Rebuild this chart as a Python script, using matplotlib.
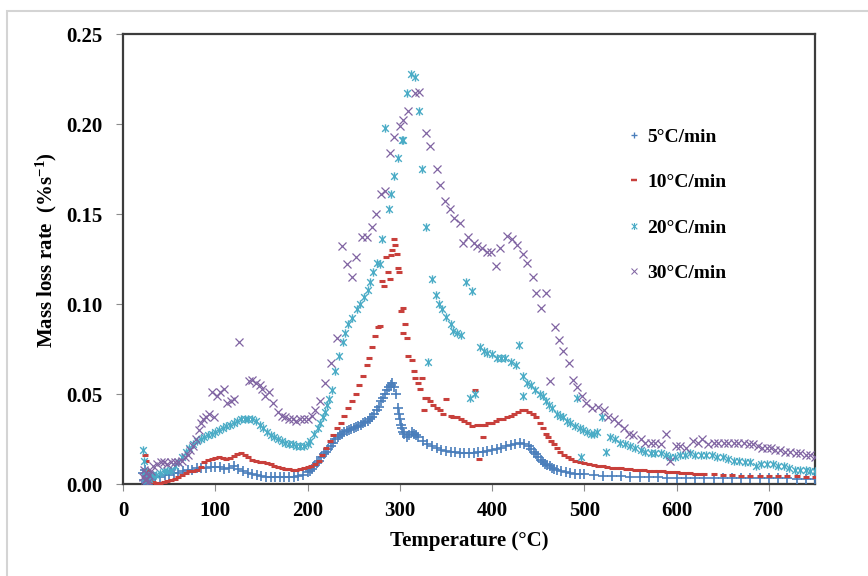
import matplotlib
matplotlib.use("Agg")
import matplotlib.pyplot as plt
from matplotlib.path import Path
from matplotlib.lines import Line2D
from matplotlib.patches import Rectangle

# ---- data: mass loss rate (%/s) vs temperature (°C) ----
t_5 = [22, 23, 24, 25, 26, 27, 28, 29, 30, 35, 40, 45, 50, 55, 60, 65, 70, 75, 80, 85,
       90, 95, 100, 105, 110, 115, 120, 125, 130, 135, 140, 145, 150, 155, 160, 165, 170,
       175, 180, 185, 190, 195, 200, 205, 210, 215, 220, 225, 230, 235, 240, 245, 250,
       255, 260, 265, 270, 275, 280, 284, 288, 290, 292, 294, 296, 298, 300, 302, 305,
       308, 310, 313, 315, 318, 320, 325, 330, 335, 340, 345, 350, 355, 360, 365, 370,
       375, 380, 385, 390, 395, 400, 405, 410, 415, 420, 425, 430, 435, 440, 445, 450,
       455, 460, 465, 470, 475, 480, 485, 490, 495, 500, 510, 520, 530, 540, 550, 560,
       570, 580, 590, 600, 610, 620, 630, 640, 650, 660, 670, 680, 690, 700, 710, 720,
       730, 740, 750]
v_5 = [0.006, 0.002, 0.008, 0.001, 0.004, 0.000, 0.003, 0.005, 0.002, 0.004, 0.004,
       0.005, 0.005, 0.006, 0.006, 0.007, 0.008, 0.008, 0.009, 0.009, 0.009, 0.0095,
       0.0095, 0.0093, 0.0085, 0.009, 0.0098, 0.0085, 0.007, 0.006, 0.0055, 0.005, 0.0045,
       0.004, 0.004, 0.0038, 0.0038, 0.004, 0.004, 0.004, 0.0045, 0.0052, 0.0065, 0.0085,
       0.0115, 0.015, 0.018, 0.021, 0.025, 0.027, 0.029, 0.030, 0.031, 0.032, 0.034,
       0.035, 0.037, 0.041, 0.046, 0.050, 0.054, 0.055, 0.056, 0.054, 0.050, 0.042,
       0.036, 0.031, 0.028, 0.026, 0.027, 0.029, 0.028, 0.027, 0.026, 0.024, 0.022,
       0.021, 0.020, 0.019, 0.0185, 0.018, 0.018, 0.0175, 0.0175, 0.0175, 0.0175, 0.018,
       0.018, 0.0185, 0.019, 0.0195, 0.020, 0.021, 0.0215, 0.022, 0.023, 0.0225, 0.021,
       0.018, 0.015, 0.012, 0.0105, 0.009, 0.0078, 0.007, 0.0065, 0.006, 0.0057, 0.0055,
       0.0053, 0.005, 0.0047, 0.0044, 0.0042, 0.004, 0.0039, 0.0038, 0.0037, 0.0036,
       0.0035, 0.0035, 0.0034, 0.0034, 0.0033, 0.0033, 0.0033, 0.0032, 0.0032, 0.0032,
       0.0031, 0.0031, 0.0031, 0.003, 0.003, 0.003]
# extra 5°C/min readings on the steep parts of the curve
t_5_extra = [202.5, 207.5, 212.5, 217.5, 222.5, 227.5, 232.5, 237.5, 242.5, 247.5,
             252.5, 257.5, 262.5, 267.5, 272.5, 277.5, 282, 286, 299, 301, 303.5,
             442.5, 447.5, 452.5, 457.5, 462.5, 467.5]
v_5_extra = [0.0075, 0.0098, 0.013, 0.0165, 0.0195, 0.023, 0.026, 0.028, 0.0295,
             0.0305, 0.0315, 0.033, 0.0345, 0.036, 0.039, 0.043, 0.048, 0.052, 0.039,
             0.033, 0.029, 0.0195, 0.0165, 0.0135, 0.011, 0.0098, 0.0085]

t_10 = [24, 25, 26, 27, 28, 30, 33, 36, 40, 44, 48, 52, 56, 60, 64, 68, 72, 76, 80, 84,
        88, 92, 96, 100, 104, 108, 112, 116, 120, 124, 128, 132, 136, 140, 144, 148, 152,
        156, 160, 164, 168, 172, 176, 180, 184, 188, 192, 196, 200, 204, 208, 212, 216,
        220, 224, 228, 232, 236, 240, 244, 248, 252, 256, 260, 264, 267, 270, 273, 276,
        279, 281, 283, 285, 287, 289, 290, 292, 294, 295, 297, 298, 299, 301, 303, 304,
        306, 308, 309, 313, 315, 317, 320, 322, 324, 326, 327, 330, 333, 336, 340, 344,
        347, 350, 355, 358, 362, 366, 370, 374, 378, 382, 384, 386, 388, 390, 392, 396,
        400, 404, 408, 412, 416, 420, 424, 428, 432, 436, 440, 444, 448, 452, 455, 458,
        461, 464, 467, 470, 474, 478, 482, 486, 490, 495, 500, 505, 510, 515, 520, 525,
        530, 535, 540, 545, 550, 555, 560, 565, 570, 575, 580, 585, 590, 595, 600, 605,
        610, 615, 620, 625, 630, 640, 650, 660, 670, 680, 690, 700, 710, 720, 730, 740,
        750]
v_10 = [0.016, 0.013, 0.008, 0.004, 0.002, 0.001, 0.001, 0.0005, 0.0008, 0.001, 0.0015,
        0.002, 0.003, 0.004, 0.005, 0.006, 0.007, 0.0075, 0.008, 0.0095, 0.012, 0.0135,
        0.014, 0.0145, 0.015, 0.0145, 0.014, 0.0145, 0.0155, 0.0165, 0.017, 0.016, 0.015,
        0.0135, 0.013, 0.0125, 0.012, 0.0115, 0.011, 0.010, 0.0095, 0.009, 0.0085, 0.0085,
        0.008, 0.008, 0.0085, 0.009, 0.0095, 0.010, 0.011, 0.013, 0.016, 0.020, 0.024,
        0.027, 0.031, 0.034, 0.038, 0.042, 0.046, 0.050, 0.055, 0.060, 0.066, 0.070,
        0.076, 0.082, 0.087, 0.088, 0.113, 0.110, 0.126, 0.118, 0.114, 0.127, 0.130,
        0.136, 0.133, 0.128, 0.120, 0.118, 0.096, 0.098, 0.084, 0.089, 0.081, 0.071,
        0.069, 0.063, 0.059, 0.056, 0.053, 0.059, 0.041, 0.048, 0.048, 0.046, 0.044,
        0.042, 0.041, 0.039, 0.047, 0.038, 0.037, 0.037, 0.036, 0.035, 0.034, 0.032,
        0.052, 0.033, 0.014, 0.033, 0.026, 0.033, 0.034, 0.034, 0.035, 0.036, 0.036,
        0.037, 0.038, 0.039, 0.040, 0.041, 0.041, 0.040, 0.039, 0.037, 0.034, 0.031,
        0.028, 0.026, 0.024, 0.022, 0.020, 0.018, 0.016, 0.015, 0.014, 0.013, 0.012,
        0.0115, 0.011, 0.0105, 0.010, 0.0098, 0.0095, 0.009, 0.009, 0.0088, 0.0085,
        0.0083, 0.008, 0.008, 0.0078, 0.0075, 0.0073, 0.007, 0.007, 0.0068, 0.0066,
        0.0065, 0.0063, 0.006, 0.006, 0.0058, 0.0056, 0.0055, 0.0053, 0.005, 0.0048,
        0.0047, 0.0046, 0.0045, 0.0044, 0.0043, 0.0042, 0.0042, 0.0041, 0.004]

t_20 = [22, 23, 24, 25, 26, 27, 28, 30, 33, 36, 40, 44, 48, 52, 56, 60, 64, 68, 72, 76,
        80, 84, 88, 92, 96, 100, 104, 108, 112, 116, 120, 124, 128, 132, 136, 140, 144,
        148, 152, 156, 160, 164, 168, 172, 176, 180, 184, 188, 192, 196, 200, 203, 207,
        211, 214, 217, 219, 221, 223, 227, 230, 234, 238, 241, 244, 248, 254, 257, 261,
        265, 268, 271, 275, 278, 281, 284, 288, 291, 294, 298, 302, 304, 308, 312, 317,
        321, 324, 328, 331, 335, 339, 342, 346, 350, 355, 358, 362, 366, 372, 376, 378,
        382, 387, 391, 395, 400, 405, 410, 414, 420, 426, 429, 433, 434, 438, 442, 446,
        452, 455, 458, 462, 465, 470, 474, 477, 481, 485, 490, 492, 495, 496, 499, 503,
        507, 511, 514, 519, 523, 528, 533, 539, 544, 550, 555, 561, 566, 572, 577, 583,
        588, 593, 598, 604, 609, 614, 620, 626, 632, 638, 644, 650, 656, 662, 668, 674,
        680, 686, 692, 698, 704, 710, 716, 722, 728, 734, 740, 745, 750]
v_20 = [0.019, 0.013, 0.007, 0.004, 0.002, 0.005, 0.003, 0.004, 0.005, 0.005, 0.006,
        0.007, 0.007, 0.008, 0.010, 0.012, 0.015, 0.018, 0.020, 0.022, 0.024, 0.025,
        0.026, 0.027, 0.028, 0.029, 0.030, 0.031, 0.032, 0.033, 0.034, 0.035, 0.036,
        0.036, 0.036, 0.036, 0.035, 0.033, 0.031, 0.029, 0.027, 0.026, 0.025, 0.024,
        0.023, 0.022, 0.022, 0.021, 0.021, 0.021, 0.022, 0.024, 0.028, 0.031, 0.034,
        0.037, 0.040, 0.044, 0.047, 0.052, 0.063, 0.071, 0.079, 0.084, 0.089, 0.092,
        0.097, 0.100, 0.104, 0.108, 0.112, 0.118, 0.123, 0.122, 0.136, 0.198, 0.153,
        0.161, 0.171, 0.181, 0.191, 0.191, 0.217, 0.228, 0.226, 0.207, 0.175, 0.143,
        0.068, 0.114, 0.105, 0.100, 0.097, 0.093, 0.089, 0.085, 0.084, 0.083, 0.112,
        0.048, 0.107, 0.050, 0.076, 0.074, 0.073, 0.072, 0.070, 0.070, 0.070, 0.068,
        0.066, 0.077, 0.049, 0.060, 0.056, 0.055, 0.052, 0.050, 0.049, 0.046, 0.044,
        0.042, 0.039, 0.038, 0.037, 0.035, 0.034, 0.032, 0.048, 0.031, 0.015, 0.030,
        0.029, 0.028, 0.028, 0.029, 0.037, 0.018, 0.026, 0.025, 0.023, 0.022, 0.021,
        0.020, 0.019, 0.018, 0.017, 0.017, 0.017, 0.016, 0.015, 0.015, 0.016, 0.016,
        0.017, 0.016, 0.016, 0.016, 0.016, 0.015, 0.015, 0.014, 0.013, 0.013, 0.012,
        0.012, 0.010, 0.011, 0.011, 0.011, 0.010, 0.010, 0.009, 0.008, 0.008, 0.008,
        0.007, 0.007]

t_30 = [22, 23, 24, 25, 26, 27, 28, 30, 33, 37, 41, 44, 48, 52, 56, 60, 64, 67, 70, 73,
        76, 79, 82, 84, 87, 90, 93, 96, 99, 102, 105, 109, 113, 117, 120, 126, 137, 140,
        144, 148, 151, 154, 158, 163, 168, 172, 176, 180, 184, 188, 192, 196, 201, 205,
        208, 213, 219, 225, 232, 237, 243, 248, 253, 259, 264, 270, 274, 280, 284, 289,
        294, 300, 304, 309, 316, 321, 328, 333, 340, 344, 349, 354, 359, 365, 369, 374,
        380, 384, 389, 395, 399, 404, 409, 416, 422, 427, 433, 438, 444, 448, 453, 458,
        463, 468, 473, 477, 483, 488, 492, 498, 502, 508, 515, 521, 526, 532, 537, 543,
        548, 553, 561, 566, 572, 577, 583, 589, 593, 599, 604, 610, 618, 623, 628, 634,
        640, 645, 651, 656, 662, 667, 673, 678, 683, 688, 693, 698, 702, 707, 712, 718,
        723, 729, 734, 740, 745, 750]
v_30 = [0.004, 0.008, 0.002, 0.006, 0.003, 0.001, 0.005, 0.007, 0.010, 0.011, 0.012,
        0.012, 0.011, 0.012, 0.012, 0.012, 0.013, 0.015, 0.016, 0.019, 0.021, 0.025,
        0.030, 0.034, 0.036, 0.037, 0.039, 0.051, 0.037, 0.049, 0.051, 0.053, 0.045,
        0.046, 0.047, 0.079, 0.057, 0.058, 0.056, 0.055, 0.053, 0.049, 0.051, 0.045,
        0.040, 0.038, 0.037, 0.036, 0.036, 0.035, 0.036, 0.036, 0.036, 0.038, 0.041,
        0.046, 0.056, 0.067, 0.081, 0.132, 0.122, 0.115, 0.126, 0.137, 0.137, 0.143,
        0.150, 0.161, 0.163, 0.184, 0.193, 0.199, 0.202, 0.207, 0.217, 0.218, 0.195,
        0.188, 0.175, 0.166, 0.157, 0.153, 0.148, 0.145, 0.134, 0.137, 0.134, 0.132,
        0.131, 0.129, 0.129, 0.121, 0.131, 0.138, 0.136, 0.133, 0.128, 0.123, 0.115,
        0.106, 0.098, 0.106, 0.057, 0.087, 0.080, 0.074, 0.067, 0.058, 0.054, 0.049,
        0.045, 0.042, 0.043, 0.041, 0.037, 0.036, 0.034, 0.031, 0.028, 0.027, 0.025,
        0.023, 0.023, 0.023, 0.022, 0.028, 0.013, 0.021, 0.021, 0.020, 0.024, 0.023,
        0.025, 0.022, 0.023, 0.023, 0.023, 0.023, 0.023, 0.023, 0.023, 0.022, 0.022,
        0.021, 0.020, 0.020, 0.020, 0.019, 0.019, 0.018, 0.018, 0.017, 0.017, 0.016,
        0.016, 0.015]

series_labels = ["5°C/min", "10°C/min", "20°C/min", "30°C/min"]
x_ticks = [0, 100, 200, 300, 400, 500, 600, 700]
y_ticks = [0.00, 0.05, 0.10, 0.15, 0.20, 0.25]

# ---- style ----
serif = "Liberation Serif"
plt.rcParams["font.family"] = [serif, "DejaVu Serif"]
plt.rcParams["font.weight"] = "bold"
plt.rcParams["mathtext.fontset"] = "custom"
plt.rcParams["mathtext.rm"] = serif + ":bold"
plt.rcParams["mathtext.default"] = "rm"

# asterisk-like marker: an "x" crossed by a vertical bar
star_path = Path(
    [(-1, -1), (1, 1), (-1, 1), (1, -1), (0, -1.25), (0, 1.25)],
    [Path.MOVETO, Path.LINETO, Path.MOVETO, Path.LINETO, Path.MOVETO, Path.LINETO],
)

styles = [
    dict(marker="+", color="#4A7EBB", ms=7, mew=1.2),
    dict(marker="_", color="#C8403C", ms=4.5, mew=2.2),
    dict(marker=star_path, color="#4BACC6", ms=6, mew=1.0),
    dict(marker="x", color="#8064A2", ms=6, mew=0.9),
]
legend_ms = [5, 4, 5, 5]

fig = plt.figure(figsize=(8.68, 5.76), dpi=100)
ax = fig.add_axes([123 / 868, 1 - 484 / 576, 692 / 868, 450 / 576])

series = [(t_5 + t_5_extra, v_5 + v_5_extra), (t_10, v_10), (t_20, v_20), (t_30, v_30)]
for (t, v), st, lab in zip(series, styles, series_labels):
    ax.plot(t, v, linestyle="none", marker=st["marker"], color=st["color"],
            markersize=st["ms"], markeredgewidth=st["mew"], label=lab, zorder=3)

ax.set_xlim(0, 750)
ax.set_ylim(0, 0.25)
ax.set_xticks(x_ticks)
ax.set_yticks(y_ticks)
ax.set_xticklabels([str(v) for v in x_ticks])
ax.set_yticklabels([f"{v:.2f}" for v in y_ticks])
ax.tick_params(axis="x", direction="out", length=5, width=0.8, color="#8c8c8c",
               labelsize=15, pad=7)
ax.tick_params(axis="y", direction="out", length=5, width=0.8, color="#8c8c8c",
               labelsize=15, pad=10)
ax.tick_params(axis="both", which="both", top=False, right=False)
for sp in ax.spines.values():
    sp.set_color("#3c3c3c")
    sp.set_linewidth(1.6)

ax.set_xlabel("Temperature (°C)", fontsize=15, fontweight="bold")
ax.set_ylabel("Mass loss rate  (%s$^{-1}$)", fontsize=15, fontweight="bold")
ax.xaxis.set_label_coords(0.5, -0.105)
ax.yaxis.set_label_coords(-0.092, 0.52)

handles = [Line2D([], [], linestyle="none", marker=st["marker"], color=st["color"],
                  markersize=ms, markeredgewidth=st["mew"] * 0.8)
           for st, ms in zip(styles, legend_ms)]
ax.legend(handles, series_labels, loc="upper left", bbox_to_anchor=(0.72, 0.808),
          frameon=False, fontsize=14, handlelength=0.5, handletextpad=0.45,
          labelspacing=1.43, borderaxespad=0)

# light frame around the chart area
fig.patches.append(Rectangle((7 / 868, -0.05), 1.1, 1 - 11 / 576 + 0.05,
                             transform=fig.transFigure, fill=False,
                             edgecolor="#d4d4d4", linewidth=1.5))

fig.savefig("out.png", dpi=100)
